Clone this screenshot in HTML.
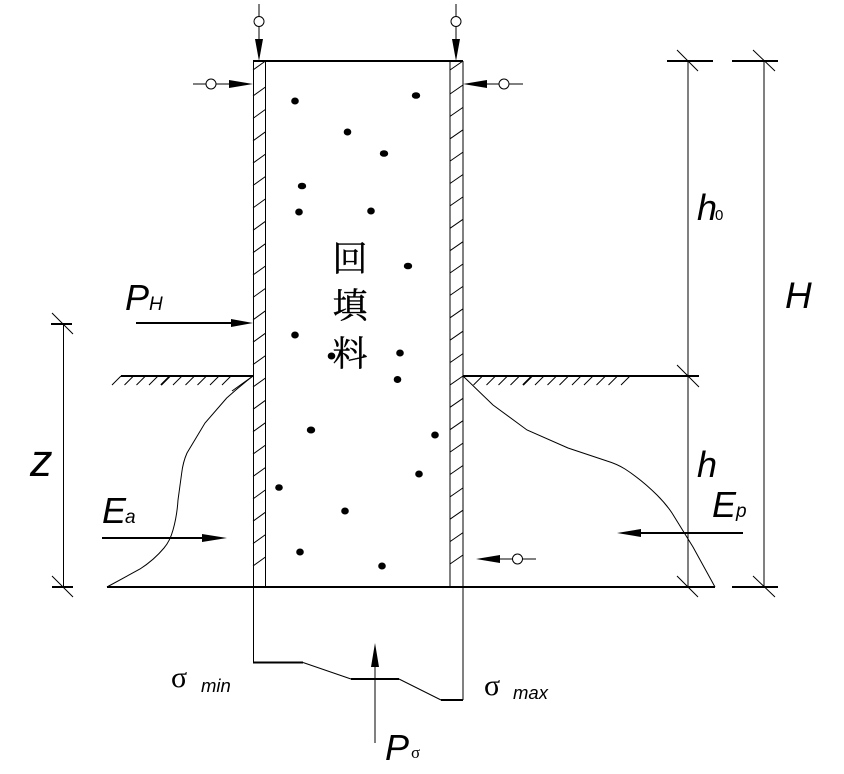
<!DOCTYPE html>
<html><head><meta charset="utf-8"><style>
html,body{margin:0;padding:0;background:#fff}
svg{display:block}
text{font-family:"Liberation Sans",sans-serif;font-style:italic;fill:#000}
.s{font-family:"Liberation Serif",serif;font-style:normal}
.c{font-family:"Noto Serif CJK SC","Liberation Serif",serif;font-style:normal;font-size:35px;text-anchor:middle;stroke:#000;stroke-width:.35px}
</style></head><body>
<svg width="844" height="774" viewBox="0 0 844 774" xmlns="http://www.w3.org/2000/svg">
<rect width="844" height="774" fill="#fff"/>
<g fill="none" stroke="#000" stroke-width="1">
<path d="M253.5 61V662M265.5 61V587M450 61V587M463 61V700" />
<path d="M253 70l12.5-9M253 96l12.5-9M253 118.4l12.5-9M253 140.8l12.5-9M253 163.1l12.5-9M253 185.5l12.5-9M253 207.9l12.5-9M253 230.3l12.5-9M253 252.7l12.5-9M253 275l12.5-9M253 297.4l12.5-9M253 319.8l12.5-9M253 342.2l12.5-9M253 364.6l12.5-9M253 387l12.5-9M253 409.3l12.5-9M253 431.7l12.5-9M253 454.1l12.5-9M253 476.5l12.5-9M253 498.9l12.5-9M253 521.2l12.5-9M253 543.6l12.5-9M253 566l12.5-9"/>
<path d="M450 70l13-9M450 94l13-9M450 116.4l13-9M450 138.8l13-9M450 161.1l13-9M450 183.5l13-9M450 205.9l13-9M450 228.3l13-9M450 250.7l13-9M450 273l13-9M450 295.4l13-9M450 317.8l13-9M450 340.2l13-9M450 362.6l13-9M450 385l13-9M450 407.3l13-9M450 429.7l13-9M450 452.1l13-9M450 474.5l13-9M450 496.9l13-9M450 519.2l13-9M450 541.6l13-9M450 564l13-9"/>
<path d="M112 385l9-9M124.5 385l9-9M136.5 385l9-9M149 385l9-9M173 385l9-9M185.5 385l9-9M197.5 385l9-9M210 385l9-9M222 385l9-9M232 391l21-15"/>
<path d="M473.5 385l9-9M486.5 385l9-9M498.5 385l9-9M510.5 385l9-9M535 385l9-9M547.5 385l9-9M559.5 385l9-9M572 385l9-9M584 385l9-9M596.5 385l9-9M608.5 385l9-9M621 385l9-9"/>
<path d="M161 385l9-9M523 385l9-9" stroke-width="1.8"/>
<path d="M253 376Q240 386 226.700 398L205 423L187 453Q183 462 181.700 473L178 500Q177 516 173 530Q170 541 164 548Q154 560 140 569L107 587"/>
<path d="M463 376L493 405L527 430L568 448L607 461Q617 464 625 469Q642 480 657 495Q666 504 672 513L693 547L715 587"/>
<path d="M688 61V587M764 61V587M63.500 324V587"/>
<path d="M677 50l21 21M753 50l22 21M677 365l22 22M677 576l21 21M753 576l22 21M52 313l21 21M52 576l21 21"/>
<path d="M259 4V40M456 4V40M193 84H230M487 84H523M500 559H536M375 666V743M303 662.500L351 679M399 679L441 700"/>
<circle cx="259" cy="21.500" r="5" fill="#fff"/><circle cx="456" cy="21.500" r="5" fill="#fff"/>
<circle cx="211" cy="84" r="5" fill="#fff"/><circle cx="504" cy="84" r="5" fill="#fff"/><circle cx="517.500" cy="559" r="5" fill="#fff"/>
</g>
<g fill="none" stroke="#000" stroke-width="2">
<path d="M253 61H463M121 376H253M463 376H699M107 587H715M732 587H778M667 61H713M732 61H778M51 324H72M52 587H73M253 662.500H303M351 679H399M441 700H463M136 323H232M102 538H203M743 533H640"/>
</g>
<g fill="#000">
<path d="M259 61l-4-22h8zM456 61l-4-22h8zM253 84l-24-4v8zM463 84l24-4v8zM476 559l24-4v8zM253 323l-22-4v8zM227 538l-25-4v8zM617 533l24-4v8zM375 643l-4 24h8z"/>
<ellipse cx="295" cy="101" rx="3.800" ry="3.500"/><ellipse cx="416" cy="95.500" rx="4.200" ry="3.300"/><ellipse cx="347.500" cy="132" rx="3.800" ry="3.500"/><ellipse cx="384" cy="153.500" rx="4.200" ry="3.300"/><ellipse cx="302" cy="186" rx="4.200" ry="3.300"/><ellipse cx="299" cy="212" rx="3.800" ry="3.500"/><ellipse cx="371" cy="211" rx="3.800" ry="3.500"/><ellipse cx="408" cy="266" rx="4.200" ry="3.300"/><ellipse cx="295" cy="335" rx="3.800" ry="3.500"/><ellipse cx="331.500" cy="356" rx="3.800" ry="3.500"/><ellipse cx="400" cy="353" rx="3.800" ry="3.500"/><ellipse cx="397.500" cy="379.500" rx="3.800" ry="3.500"/><ellipse cx="311" cy="430" rx="4.200" ry="3.500"/><ellipse cx="435" cy="435" rx="3.800" ry="3.500"/><ellipse cx="419" cy="474" rx="3.800" ry="3.500"/><ellipse cx="279" cy="487.500" rx="3.800" ry="3.300"/><ellipse cx="345" cy="511" rx="3.800" ry="3.500"/><ellipse cx="300" cy="552" rx="3.800" ry="3.500"/><ellipse cx="382" cy="566" rx="3.800" ry="3.500"/>
</g>
<text class="c" x="350" y="271">回</text>
<text class="c" x="350" y="318">填</text>
<text class="c" x="350" y="366">料</text>
<text x="125" y="310" font-size="36">P</text><text x="149" y="310" font-size="19">H</text>
<text x="102" y="523" font-size="36">E</text><text x="125" y="523" font-size="19">a</text>
<text x="712" y="517" font-size="36">E</text><text x="736" y="517" font-size="19">p</text>
<text x="697" y="477" font-size="36">h</text>
<text x="697" y="220" font-size="36">h</text><text x="715" y="220" font-size="15" style="font-style:normal">0</text>
<text x="785" y="308" font-size="37">H</text>
<text x="30" y="476" font-size="45">z</text>
<text x="385" y="760" font-size="36">P</text><text class="s" x="411" y="758" font-size="17">σ</text>
<text class="s" x="171" y="687" font-size="30">σ</text><text x="201" y="692" font-size="18.500">min</text>
<text class="s" x="484" y="695" font-size="30">σ</text><text x="513" y="699" font-size="18.500">max</text>
</svg>
</body></html>
